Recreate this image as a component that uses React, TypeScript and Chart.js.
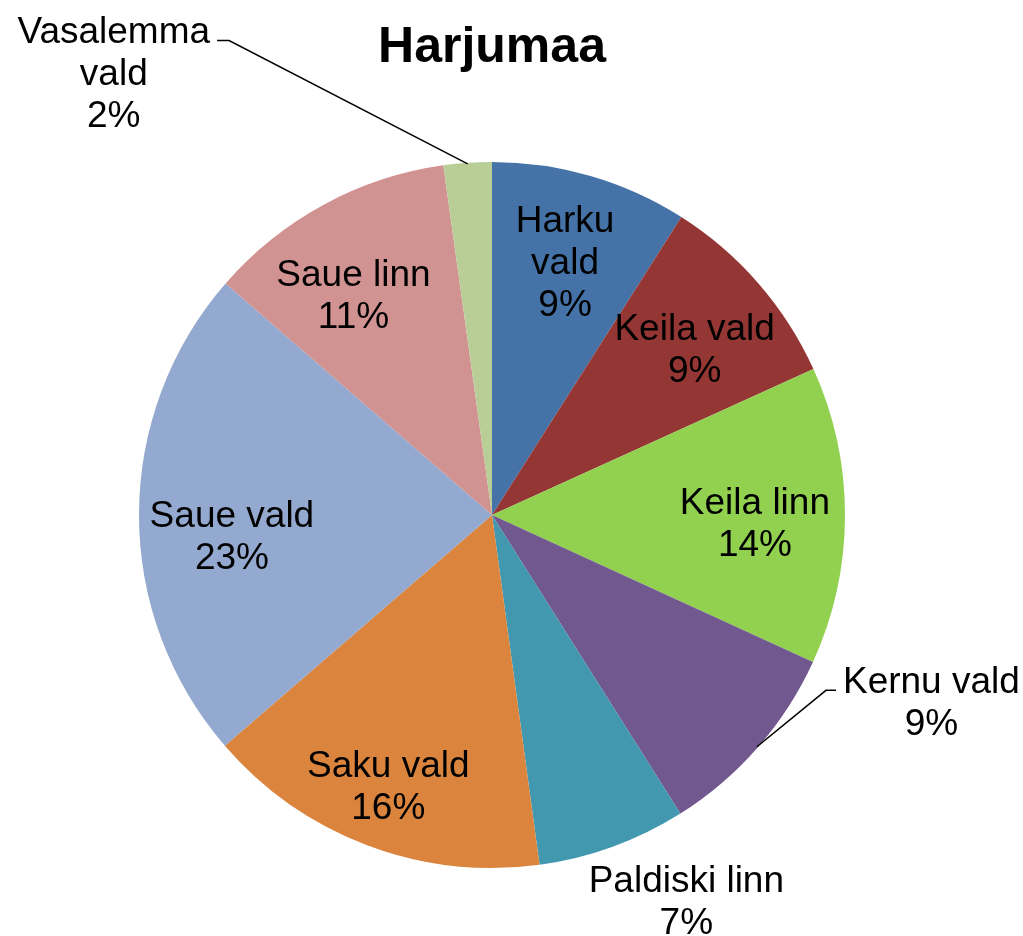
import React, { useEffect, useRef } from "react";
import { Chart, registerables } from "chart.js";

Chart.register(...registerables);

const chartTitle = "Harjumaa";
const categories = [
  "Harku vald",
  "Keila vald",
  "Keila linn",
  "Kernu vald",
  "Paldiski linn",
  "Saku vald",
  "Saue vald",
  "Saue linn",
  "Vasalemma vald",
];
const values = [9.0, 9.2, 13.6, 9.2, 6.8, 15.8, 22.7, 11.4, 2.2];
const labelLines = [
  ["Harku", "vald"],
  ["Keila vald"],
  ["Keila linn"],
  ["Kernu vald"],
  ["Paldiski linn"],
  ["Saku vald"],
  ["Saue vald"],
  ["Saue linn"],
  ["Vasalemma", "vald"],
];
const colors = [
  "#4572A7",
  "#943634",
  "#92D050",
  "#71588F",
  "#4198AF",
  "#DB843D",
  "#93A9CF",
  "#D19392",
  "#B9CD96",
];

// label layout: radial factor & angle offset (deg) from slice mid angle
const labelLayout = [
  { rf: 0.75, da: -0.2, leader: null },
  { rf: 0.745, da: 1.4, leader: null },
  { rf: 0.745, da: 1.3, leader: null },
  { rf: 1.351, da: -18.3, leader: { side: "left", startAngleOffset: 0 } },
  { rf: 1.221, da: -6.8, leader: null },
  { rf: 0.819, da: 0.3, leader: null },
  { rf: 0.739, da: -4.5, leader: null },
  { rf: 0.739, da: -3.6, leader: null },
  { rf: 1.651, da: -36.5, leader: { side: "right", startAngleOffset: 0 } },
];

const FONT = "'Liberation Sans', Arial, Helvetica, sans-serif";

const labelPlugin = {
  id: "pieLabels",
  afterDatasetsDraw(chart: any) {
    const ctx = chart.ctx;
    const meta = chart.getDatasetMeta(0);
    const data = chart.data.datasets[0].data as number[];
    const total = data.reduce((a: number, b: number) => a + b, 0);
    ctx.save();
    ctx.font = `37px ${FONT}`;
    ctx.fillStyle = "#000";
    ctx.textAlign = "center";
    ctx.textBaseline = "middle";
    const lh = 42;
    meta.data.forEach((arc: any, i: number) => {
      const p = arc.getProps(["x", "y", "startAngle", "endAngle", "outerRadius"], true);
      const mid = (p.startAngle + p.endAngle) / 2;
      const lay = labelLayout[i];
      const ang = mid + (lay.da * Math.PI) / 180;
      const r = p.outerRadius * lay.rf;
      const cx = p.x + Math.cos(ang) * r;
      const cy = p.y + Math.sin(ang) * r;
      const pct = Math.round((data[i] / total) * 100) + "%";
      const lines = [...labelLines[i], pct];
      const y0 = cy - ((lines.length - 1) * lh) / 2;
      lines.forEach((t, k) => ctx.fillText(t, cx, y0 + k * lh + 3));
      if (lay.leader) {
        const w0 = ctx.measureText(lines[0]).width;
        const ly = y0 + 11;
        let endX: number, elbowX: number;
        if (lay.leader.side === "right") {
          endX = cx + w0 / 2 + 7;
          elbowX = endX + 12;
        } else {
          endX = cx - w0 / 2 - 7;
          elbowX = endX - 10;
        }
        const sa = mid + (lay.leader.startAngleOffset * Math.PI) / 180;
        const sx = p.x + Math.cos(sa) * (p.outerRadius - 1);
        const sy = p.y + Math.sin(sa) * (p.outerRadius - 1);
        ctx.beginPath();
        ctx.strokeStyle = "#000";
        ctx.lineWidth = 1.5;
        ctx.moveTo(sx, sy);
        ctx.lineTo(elbowX, ly);
        ctx.lineTo(endX, ly);
        ctx.stroke();
      }
    });
    ctx.restore();
  },
};

export default function App() {
  const ref = useRef<HTMLCanvasElement | null>(null);
  useEffect(() => {
    if (!ref.current) return;
    const chart = new Chart(ref.current, {
      type: "pie",
      data: {
        labels: categories,
        datasets: [
          {
            data: values,
            backgroundColor: colors,
            borderWidth: 0,
          },
        ],
      },
      options: {
        responsive: false,
        animation: false,
        layout: { padding: { left: 139, right: 178, top: 0, bottom: 68 } },
        plugins: {
          legend: { display: false },
          tooltip: { enabled: false },
          title: {
            display: true,
            text: chartTitle,
            color: "#000",
            font: { family: FONT, size: 50, weight: "bold", lineHeight: 1.2 },
            padding: { top: 18, bottom: 84 },
          },
        },
      },
      plugins: [labelPlugin],
    });
    return () => chart.destroy();
  }, []);
  return (
    <div style={{ position: "absolute", left: 0, top: 0, width: 1023, height: 936, background: "#fff" }}>
      <canvas ref={ref} width={1023} height={936} style={{ display: "block" }} />
    </div>
  );
}
